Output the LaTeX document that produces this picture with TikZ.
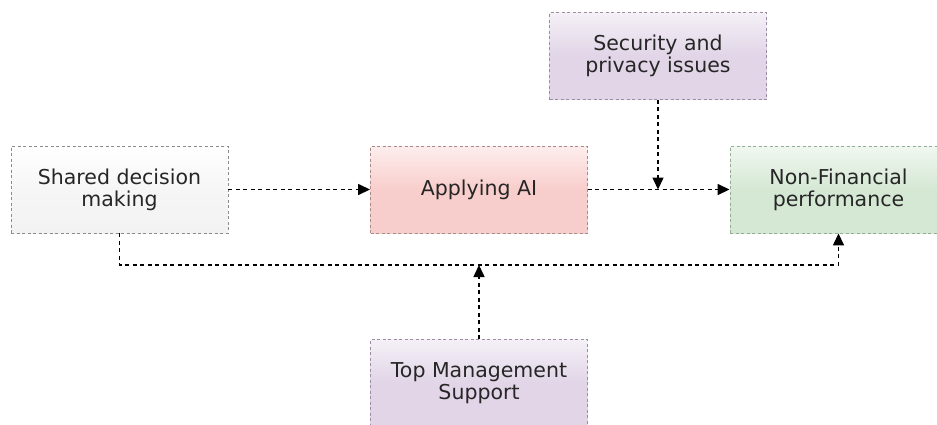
\documentclass[tikz,border=0pt]{standalone}
\usepackage{fontspec}
\setmainfont{DejaVu Sans}
\usetikzlibrary{arrows.meta}
\definecolor{txt}{HTML}{262626}
\definecolor{grayfill}{HTML}{F2F2F2}
\definecolor{grayline}{HTML}{8C8C8C}
\definecolor{redfill}{HTML}{F8CECC}
\definecolor{redline}{HTML}{A88C8A}
\definecolor{purpfill}{HTML}{E1D5E7}
\definecolor{purpline}{HTML}{9C8CA4}
\definecolor{grnfill}{HTML}{D5E8D4}
\definecolor{grnline}{HTML}{94AC93}
\tikzset{
  box/.style={rectangle, minimum width=217pt, minimum height=87pt, inner sep=0pt,
    align=center, text=txt, dash pattern=on 3pt off 2.5pt, line width=0.9pt,
    font=\fontsize{20.5pt}{22pt}\selectfont},
  graybox/.style={box, draw=grayline, top color=white, bottom color=grayfill, middle color=grayfill!70!white},
  redbox/.style={box, draw=redline, top color=redfill!35!white, bottom color=redfill, middle color=redfill},
  purpbox/.style={box, draw=purpline, top color=purpfill!35!white, bottom color=purpfill, middle color=purpfill},
  grnbox/.style={box, draw=grnline, top color=grnfill!35!white, bottom color=grnfill, middle color=grnfill},
  conn/.style={draw=black, line width=1.5pt, dash pattern=on 4pt off 3.5pt,
    -{Triangle[length=12pt, width=11pt]}}
}
\begin{document}
\begin{tikzpicture}[x=1pt, y=-1pt]
\useasboundingbox (0,0) rectangle (937,424);
\node[graybox] (shared) at (119.5,189.5) {Shared decision\\making};
\node[redbox] (ai) at (479,189.5) {Applying AI};
\node[purpbox] (sec) at (658,56) {Security and\\privacy issues};
\node[grnbox] (nf) at (838.5,189.5) {Non-Financial\\performance};
\node[purpbox] (top) at (479,383) {Top Management\\Support};
\coordinate (bl) at (shared.south |- 0,265);
\draw[conn] (shared.east) -- (ai.west);
\draw[conn] (ai.east) -- (nf.west);
\draw[conn] (sec.south) -- (sec.south |- ai.east);
\draw[conn] (shared.south) -- (bl) -| (nf.south);
\draw[conn] (top.north) -- (top.north |- bl);
\end{tikzpicture}
\end{document}
